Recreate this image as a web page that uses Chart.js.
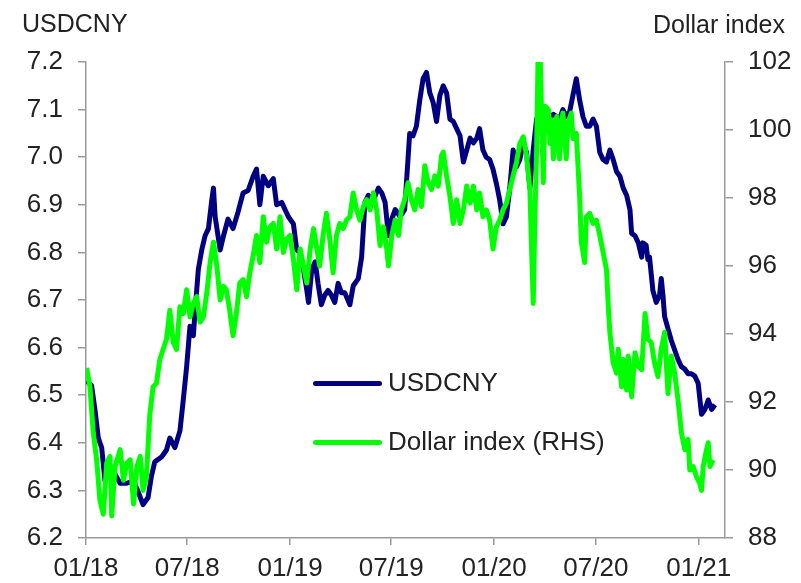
<!DOCTYPE html>
<html>
<head>
<meta charset="utf-8">
<script src="https://cdn.jsdelivr.net/npm/chart.js@4"></script>
<style>
  body { margin: 0; background: #fff; }
  #wrap { position: relative; width: 801px; height: 583px; font-family: "Liberation Sans", Arial, sans-serif; color: #222; }
  #wrap canvas { position: absolute; left: 0; top: 0; }
  .lbl { position: absolute; font-size: 26px; line-height: 26px; white-space: nowrap; }
  .key { position: absolute; left: 313px; width: 69px; height: 5px; border-radius: 3px; }
</style>
</head>
<body>
<div id="wrap">
  <canvas id="fxChart" width="801" height="583"></canvas>
  <div class="lbl" style="left:22px; top:10px; font-size:25px;">USDCNY</div>
  <div class="lbl" style="right:16px; top:11px; font-size:25px;">Dollar index</div>
  <div class="key" style="top:381px; background:#000080;"></div>
  <div class="lbl" style="left:388px; top:369px;">USDCNY</div>
  <div class="key" style="top:440px; background:#00ff00;"></div>
  <div class="lbl" style="left:388px; top:428px;">Dollar index (RHS)</div>
</div>
<script>
// days counted from 01 Jan 2018
var cnyDays = [1, 10, 16, 22, 28, 34, 43, 49, 61, 73, 85, 94, 102, 111, 117, 123, 135, 144, 150, 159, 168, 174, 180, 186, 192, 195, 201, 207, 213, 219, 225, 228, 231, 240, 246, 254, 263, 272, 281, 290, 299, 305, 311, 317, 326, 335, 341, 350, 362, 371, 377, 383, 389, 395, 398, 404, 410, 415, 421, 427, 433, 439, 445, 451, 457, 463, 472, 478, 487, 493, 499, 505, 514, 523, 529, 535, 541, 547, 553, 562, 570, 579, 585, 591, 597, 603, 609, 615, 621, 627, 633, 639, 645, 651, 657, 663, 669, 675, 681, 687, 693, 699, 704, 710, 716, 722, 728, 734, 740, 746, 752, 758, 764, 770, 776, 782, 788, 794, 800, 806, 812, 818, 824, 830, 836, 842, 847, 853, 859, 865, 871, 877, 883, 889, 895, 901, 907, 913, 919, 925, 931, 937, 943, 949, 955, 961, 967, 973, 976, 982, 988, 994, 996, 1002, 1005, 1008, 1011, 1014, 1020, 1026, 1029, 1032, 1035, 1041, 1047, 1053, 1059, 1065, 1071, 1077, 1083, 1089, 1095, 1101, 1107, 1113, 1119, 1125];
var cnyRate = [6.53, 6.52, 6.47, 6.41, 6.39, 6.32, 6.35, 6.34, 6.315, 6.315, 6.32, 6.295, 6.27, 6.285, 6.33, 6.36, 6.37, 6.385, 6.41, 6.39, 6.425, 6.49, 6.56, 6.645, 6.625, 6.675, 6.765, 6.805, 6.835, 6.85, 6.91, 6.935, 6.875, 6.805, 6.835, 6.87, 6.85, 6.885, 6.925, 6.93, 6.96, 6.975, 6.9, 6.96, 6.94, 6.955, 6.9, 6.905, 6.875, 6.86, 6.805, 6.8, 6.765, 6.72, 6.695, 6.765, 6.78, 6.735, 6.69, 6.71, 6.72, 6.71, 6.695, 6.735, 6.715, 6.715, 6.69, 6.73, 6.745, 6.79, 6.905, 6.92, 6.91, 6.935, 6.925, 6.905, 6.835, 6.87, 6.89, 6.875, 6.89, 7.05, 7.045, 7.065, 7.12, 7.165, 7.178, 7.135, 7.115, 7.075, 7.13, 7.15, 7.135, 7.08, 7.075, 7.06, 7.045, 6.99, 7.015, 7.04, 7.03, 7.04, 7.06, 7.015, 7.0, 6.995, 6.975, 6.945, 6.91, 6.86, 6.875, 6.935, 7.015, 6.98, 6.995, 7.03, 7.01, 6.935, 7.015, 7.08, 7.065, 7.085, 7.065, 7.085, 7.09, 7.085, 7.08, 7.1, 7.085, 7.095, 7.13, 7.165, 7.12, 7.085, 7.065, 7.065, 7.08, 7.065, 7.01, 6.995, 6.99, 7.015, 6.995, 6.97, 6.96, 6.935, 6.92, 6.89, 6.84, 6.835, 6.82, 6.79, 6.82, 6.815, 6.785, 6.79, 6.755, 6.72, 6.695, 6.71, 6.745, 6.71, 6.665, 6.64, 6.615, 6.595, 6.575, 6.56, 6.555, 6.545, 6.545, 6.54, 6.525, 6.46, 6.47, 6.49, 6.47, 6.48];

var dxyDays = [1, 7, 13, 19, 25, 31, 37, 43, 46, 52, 61, 67, 73, 79, 85, 91, 97, 102, 108, 114, 120, 126, 132, 138, 144, 150, 156, 162, 168, 174, 180, 186, 192, 198, 204, 210, 216, 222, 228, 234, 240, 246, 251, 257, 263, 269, 275, 281, 287, 293, 299, 305, 311, 317, 323, 329, 335, 341, 347, 353, 359, 365, 371, 377, 383, 389, 395, 401, 407, 413, 418, 424, 430, 436, 442, 448, 454, 460, 466, 472, 478, 484, 490, 496, 502, 508, 514, 520, 526, 532, 538, 541, 547, 553, 559, 564, 570, 576, 582, 588, 594, 600, 606, 612, 618, 624, 630, 636, 639, 645, 651, 657, 663, 669, 675, 681, 687, 693, 699, 704, 710, 716, 722, 728, 734, 740, 746, 752, 758, 764, 770, 776, 782, 788, 794, 797, 800, 803, 806, 809, 812, 815, 818, 821, 827, 830, 833, 836, 842, 847, 850, 853, 859, 862, 868, 871, 877, 883, 886, 892, 895, 901, 907, 913, 919, 925, 931, 934, 937, 943, 949, 952, 958, 961, 967, 970, 976, 982, 988, 994, 1000, 1005, 1011, 1017, 1023, 1029, 1035, 1041, 1047, 1053, 1059, 1065, 1071, 1077, 1080, 1086, 1092, 1098, 1101, 1104, 1110, 1113, 1116, 1122];
var dxyIndex = [93.0, 92.45, 91.1, 90.3, 89.1, 88.7, 90.2, 90.4, 88.65, 90.1, 90.6, 89.7, 90.2, 90.3, 89.0, 90.1, 90.4, 89.4, 89.8, 91.6, 92.45, 92.55, 93.25, 93.55, 93.85, 94.7, 93.75, 93.55, 94.8, 94.6, 95.3, 94.5, 94.9, 95.1, 94.35, 94.5, 95.2, 96.1, 96.7, 96.0, 95.0, 95.4, 95.3, 94.7, 93.95, 94.6, 95.5, 95.6, 95.1, 95.8, 96.3, 96.9, 96.1, 97.45, 96.7, 97.15, 97.25, 96.5, 97.45, 96.4, 96.8, 96.9, 96.2, 95.3, 96.5, 96.0, 95.5, 96.5, 97.1, 96.5, 96.0, 96.9, 97.55, 96.8, 95.8, 96.9, 97.25, 97.1, 97.35, 97.45, 98.15, 97.65, 97.35, 97.75, 97.95, 97.65, 98.15, 97.65, 96.6, 97.15, 96.5, 96.0, 96.9, 97.35, 96.9, 97.65, 97.95, 98.45, 97.95, 97.65, 98.25, 97.75, 98.95, 98.45, 98.25, 98.65, 98.35, 99.25, 99.35, 98.65, 98.05, 97.25, 97.95, 97.25, 97.65, 98.35, 97.85, 98.35, 97.65, 98.15, 97.45, 97.65, 97.35, 96.5, 97.15, 97.35, 97.65, 97.85, 98.25, 98.65, 99.05, 99.6, 99.8, 99.25, 98.25, 96.5, 94.9, 97.45, 99.4, 102.6, 102.4, 100.4, 98.45, 100.7, 100.6, 99.6, 100.3, 99.15, 100.4, 99.15, 100.1, 100.5, 99.15, 100.2, 100.5, 99.75, 99.9, 98.05, 96.7, 96.1, 97.45, 97.55, 97.25, 97.35, 96.9, 96.4, 95.9, 94.9, 94.05, 93.15, 92.85, 93.55, 92.45, 93.25, 92.35, 93.35, 92.15, 93.45, 93.05, 92.95, 94.6, 93.85, 93.75, 93.15, 92.75, 93.55, 94.05, 92.25, 93.35, 92.85, 92.05, 91.1, 90.6, 90.9, 90.0, 90.1, 89.8, 89.6, 89.4, 90.1, 90.6, 90.8, 90.1, 90.3];

var cnyTicks = [6.2, 6.3, 6.4, 6.5, 6.6, 6.7, 6.8, 6.9, 7.0, 7.1, 7.2];
var dxyTicks = [88, 90, 92, 94, 96, 98, 100, 102];
var xTickDays = [0, 181, 365, 546, 730, 912, 1096];
var xTickLabels = ['01/18', '07/18', '01/19', '07/19', '01/20', '07/20', '01/21'];

function pairs(xs, ys) {
  return xs.map(function(x, i) { return { x: x, y: ys[i] }; });
}

var tickFont = { family: '"Liberation Sans", Arial, sans-serif', size: 26 };
var axisGrey = '#9a9a9a';

new Chart(document.getElementById('fxChart').getContext('2d'), {
  type: 'line',
  data: {
    datasets: [
      {
        label: 'USDCNY',
        data: pairs(cnyDays, cnyRate),
        yAxisID: 'yL',
        borderColor: '#000080',
        borderWidth: 5,
        pointRadius: 0,
        tension: 0,
        borderJoinStyle: 'round',
        order: 1
      },
      {
        label: 'Dollar index (RHS)',
        data: pairs(dxyDays, dxyIndex),
        yAxisID: 'yR',
        borderColor: '#00ff00',
        borderWidth: 5,
        pointRadius: 0,
        tension: 0,
        borderJoinStyle: 'round',
        order: 0
      }
    ]
  },
  options: {
    responsive: false,
    animation: false,
    events: [],
    layout: { padding: { top: 62, left: 0, right: 0, bottom: 0 } },
    plugins: { legend: { display: false }, tooltip: { enabled: false } },
    scales: {
      x: {
        type: 'linear',
        min: 0,
        max: 1143,
        afterBuildTicks: function(s) { s.ticks = xTickDays.map(function(v) { return { value: v }; }); },
        afterFit: function(s) { s.height = 45; },
        ticks: {
          autoSkip: false, maxRotation: 0, padding: 8, color: '#222', font: tickFont,
          callback: function(v, i) { return xTickLabels[i]; }
        },
        grid: { drawOnChartArea: false, color: axisGrey, lineWidth: 1.5, tickLength: 7 },
        border: { color: axisGrey, width: 1.5 }
      },
      yL: {
        position: 'left',
        min: 6.2,
        max: 7.2,
        afterBuildTicks: function(s) { s.ticks = cnyTicks.map(function(v) { return { value: v }; }); },
        afterFit: function(s) { s.width = 86; },
        ticks: {
          padding: 15, color: '#222', font: tickFont,
          callback: function(v) { return v.toFixed(1); }
        },
        grid: { drawOnChartArea: false, color: axisGrey, lineWidth: 1.5, tickLength: 8 },
        border: { color: axisGrey, width: 1.5 }
      },
      yR: {
        position: 'right',
        min: 88,
        max: 102,
        afterBuildTicks: function(s) { s.ticks = dxyTicks.map(function(v) { return { value: v }; }); },
        afterFit: function(s) { s.width = 76; },
        ticks: {
          padding: 15, color: '#222', font: tickFont,
          callback: function(v) { return String(v); }
        },
        grid: { drawOnChartArea: false, color: axisGrey, lineWidth: 1.5, tickLength: 8 },
        border: { color: axisGrey, width: 1.5 }
      }
    }
  }
});
</script>
</body>
</html>
